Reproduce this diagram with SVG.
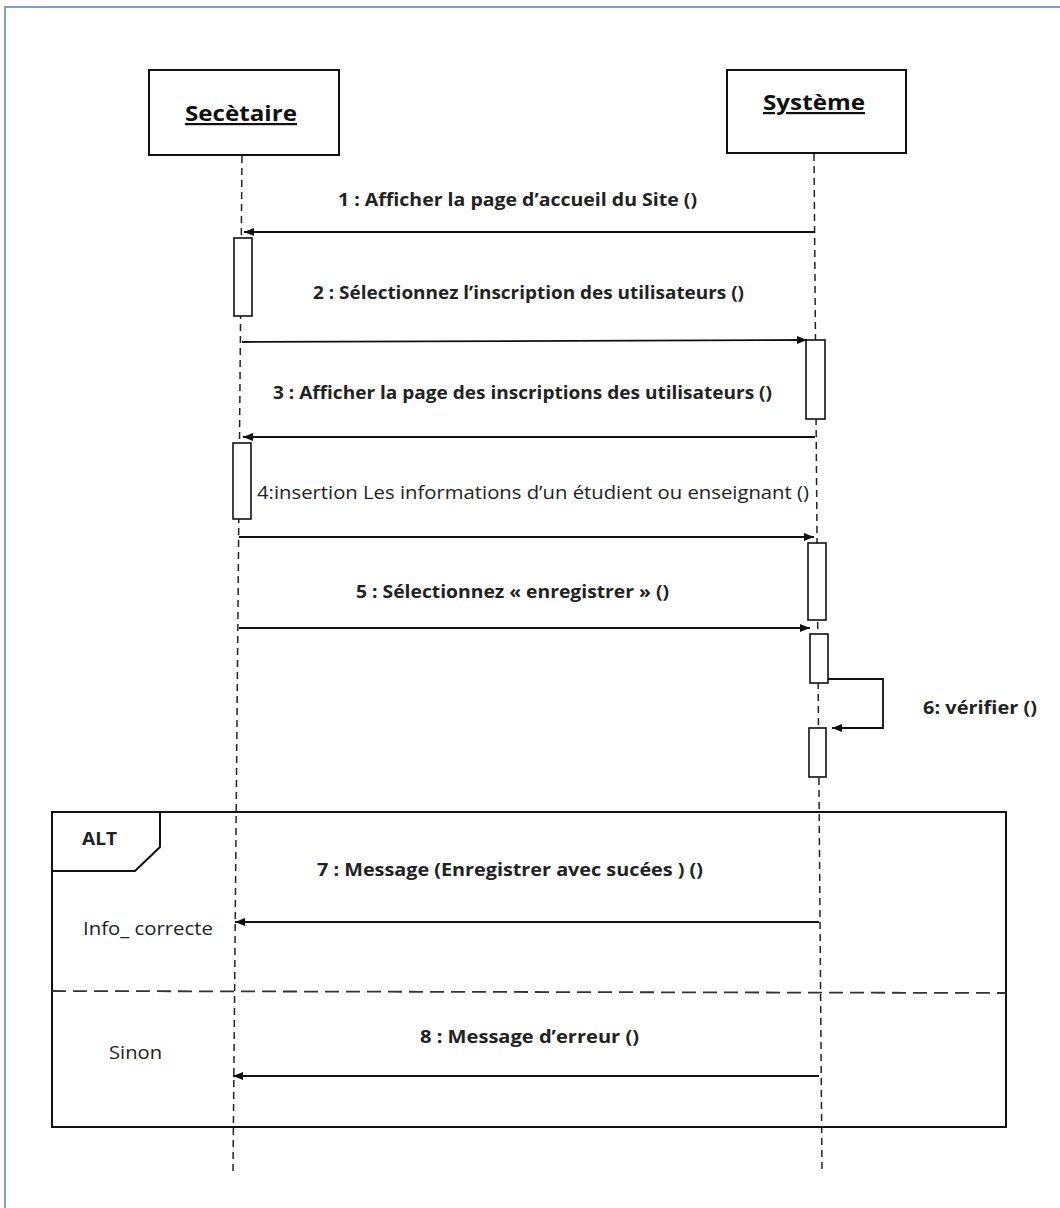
<svg xmlns="http://www.w3.org/2000/svg" width="1060" height="1208" viewBox="0 0 1060 1208">
  <style>
    .box { fill: #fff; stroke: #111; stroke-width: 2; }
    .act { fill: #fff; stroke: #111; stroke-width: 1.6; }
    .life { stroke: #222; stroke-width: 1.5; stroke-dasharray: 7 5; fill: none; }
    .msg { stroke: #111; stroke-width: 1.8; fill: none; }
    .frame { fill: none; stroke: #111; stroke-width: 2; }
    .sep { stroke: #333; stroke-width: 1.8; stroke-dasharray: 14 7; fill: none; }
    .lbl { font-family: "Open Sans", "Liberation Sans", sans-serif; font-size: 18px; fill: #222; font-weight: bold; }
    .reg { font-family: "Open Sans", "Liberation Sans", sans-serif; font-size: 18px; fill: #222; }
    .actor { font-family: "Open Sans", "Liberation Sans", sans-serif; font-size: 22px; font-weight: bold; fill: #111; text-decoration: underline; }
  </style>
  <defs>
    <marker id="head" viewBox="0 0 10 8" refX="10" refY="4" markerWidth="10" markerHeight="8" markerUnits="userSpaceOnUse" orient="auto">
      <path d="M0,0 L10,4 L0,8 Z" fill="#111"/>
    </marker>
  </defs>

  <!-- page border -->
  <path d="M5,1208 L5,7 L1060,7" fill="none" stroke="#7aa0d8" stroke-width="2"/>

  <!-- lifelines -->
  <g id="lifelines">
    <line class="life" x1="242" y1="156" x2="233" y2="1172"/>
    <line class="life" x1="814" y1="154" x2="822" y2="1172"/>
  </g>

  <!-- actors -->
  <g id="secretaire">
    <rect class="box" x="149" y="70" width="190" height="85"/>
    <text class="actor" x="241" y="121" text-anchor="middle" textLength="112" lengthAdjust="spacingAndGlyphs">Secètaire</text>
  </g>
  <g id="systeme">
    <rect class="box" x="727" y="70" width="179" height="83"/>
    <text class="actor" x="814" y="110" text-anchor="middle" textLength="102" lengthAdjust="spacingAndGlyphs">Système</text>
  </g>

  <!-- activation bars -->
  <g id="activations">
    <rect class="act" x="234" y="238" width="18" height="78"/>
    <rect class="act" x="806" y="340" width="19" height="79"/>
    <rect class="act" x="233" y="443" width="18" height="76"/>
    <rect class="act" x="808" y="543" width="18" height="77"/>
    <rect class="act" x="810" y="634" width="18" height="49"/>
    <rect class="act" x="809" y="728" width="17" height="49"/>
  </g>

  <!-- alt fragment -->
  <g id="alt-fragment">
    <rect class="frame" x="52" y="812" width="954" height="315"/>
    <path class="frame" d="M52,871 L135,871 L160,847 L160,812"/>
    <text class="lbl" x="82" y="845" textLength="35" lengthAdjust="spacingAndGlyphs">ALT</text>
    <line class="sep" x1="52" y1="991" x2="1006" y2="993"/>
    <text class="reg" x="83" y="935" textLength="130" lengthAdjust="spacingAndGlyphs">Info_ correcte</text>
    <text class="reg" x="109" y="1059" textLength="53" lengthAdjust="spacingAndGlyphs">Sinon</text>
  </g>

  <!-- messages -->
  <g id="connectors">
    <line class="msg" x1="814" y1="232" x2="244" y2="232" marker-end="url(#head)"/>
    <line class="msg" x1="242" y1="342" x2="807" y2="340" marker-end="url(#head)"/>
    <line class="msg" x1="815" y1="437" x2="243" y2="437" marker-end="url(#head)"/>
    <line class="msg" x1="239" y1="537" x2="814" y2="537" marker-end="url(#head)"/>
    <line class="msg" x1="239" y1="628" x2="810" y2="628" marker-end="url(#head)"/>
    <path class="msg" d="M828,679 L883,679 L883,728 L832,728" marker-end="url(#head)"/>
    <line class="msg" x1="819" y1="922" x2="235" y2="922" marker-end="url(#head)"/>
    <line class="msg" x1="819" y1="1076" x2="233" y2="1076" marker-end="url(#head)"/>
  </g>

  <!-- message labels -->
  <g id="labels">
    <text class="lbl" x="338" y="206" textLength="359" lengthAdjust="spacingAndGlyphs">1 : Afficher  la page d’accueil du Site ()</text>
    <text class="lbl" x="313" y="299" textLength="431" lengthAdjust="spacingAndGlyphs">2 : Sélectionnez l’inscription des utilisateurs ()</text>
    <text class="lbl" x="273" y="399" textLength="499" lengthAdjust="spacingAndGlyphs">3 : Afficher la page des inscriptions des utilisateurs ()</text>
    <text class="reg" x="257" y="499" textLength="552" lengthAdjust="spacingAndGlyphs">4:insertion Les informations d’un étudient ou enseignant ()</text>
    <text class="lbl" x="356" y="598" textLength="313" lengthAdjust="spacingAndGlyphs">5 : Sélectionnez « enregistrer » ()</text>
    <text class="lbl" x="923" y="714" textLength="114" lengthAdjust="spacingAndGlyphs">6: vérifier ()</text>
    <text class="lbl" x="317" y="876" textLength="386" lengthAdjust="spacingAndGlyphs">7 : Message  (Enregistrer avec sucées ) ()</text>
    <text class="lbl" x="420" y="1043" textLength="219" lengthAdjust="spacingAndGlyphs">8 : Message d’erreur ()</text>
  </g>
</svg>
